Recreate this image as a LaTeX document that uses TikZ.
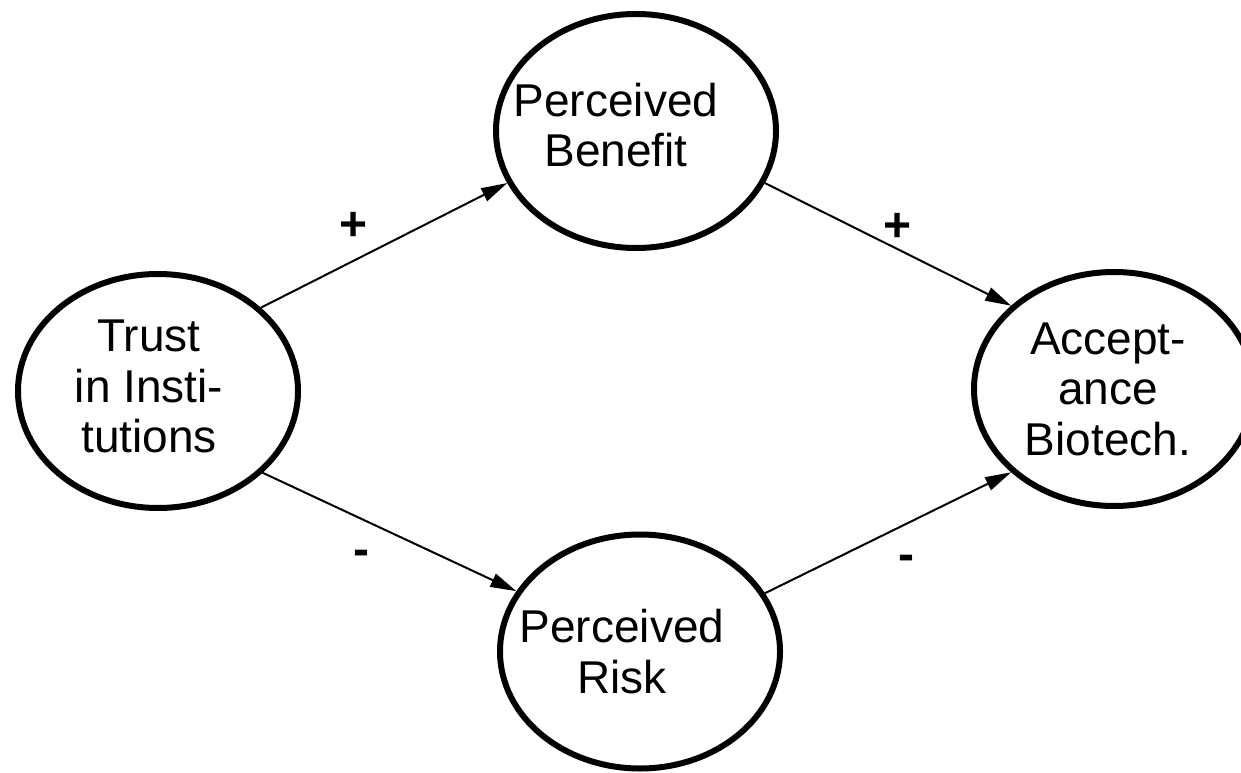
\documentclass[tikz,border=0pt]{standalone}
\usepackage{fontspec}
\setmainfont{Liberation Sans}
\usetikzlibrary{shapes.geometric,arrows.meta}
\begin{document}
\begin{tikzpicture}[x=1pt,y=1pt,
  oval/.style={ellipse,draw,line width=6pt,minimum width=280pt,minimum height=234pt,inner sep=0pt},
  txt/.style={align=center,inner sep=0pt,font=\fontsize{46}{50.5}\selectfont},
  sign/.style={inner sep=0pt,font=\fontsize{48}{50}\selectfont\bfseries},
  conn/.style={line width=2pt,-{Triangle[length=26pt,width=14pt]}}]
\fill[white] (0,0) rectangle (1241,772);
\useasboundingbox (0,0) rectangle (1241,772);
% ellipses
\node[oval] (tr) at (158,381) {};
\node[oval] (pb) at (636,641) {};
\node[oval] (pr) at (640,120.5) {};
\node[oval] (ac) at (1114,383) {};
% texts
\node[txt] (trt) at (149,385.5) {Trust\\in Insti-\\tutions};
\node[txt] (pbt) at (616,647) {Perceived\\Benefit};
\node[txt] (prt) at (622,120.5) {Perceived\\Risk};
\node[txt] (act) at (1108,383) {Accept-\\ance\\Biotech.};
% connectors
\draw[conn] (tr.39.3) -- (pb.202.7);
\draw[conn] (pb.-22) -- (ac.141.1);
\draw[conn] (tr.-38.8) -- (pr.154.9);
\draw[conn] (pr.25.1) -- (ac.219);
% signs
\node[sign] (s1) at (353.7,545.3) {+};
\node[sign] (s2) at (898,545) {+};
\node[sign] (s3) at (361.5,214.5) {-};
\node[sign] (s4) at (906,209.5) {-};
\end{tikzpicture}
\end{document}
